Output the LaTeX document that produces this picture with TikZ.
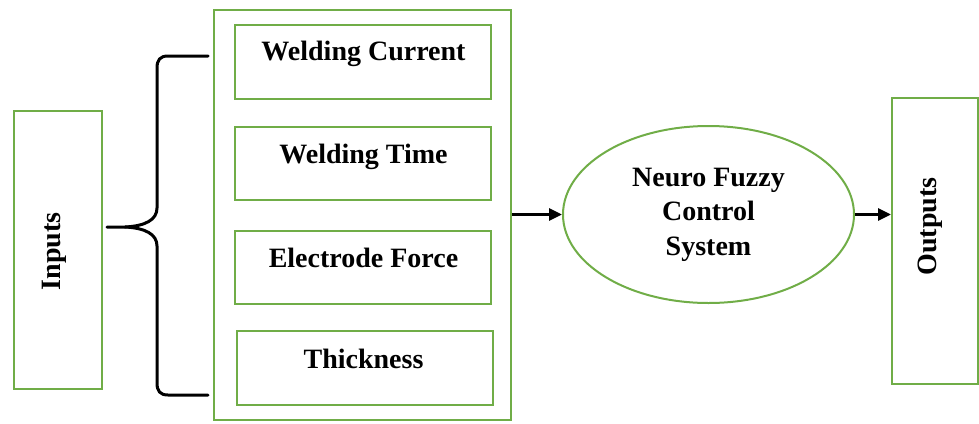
\documentclass[tikz,border=0pt]{standalone}
\usepackage{fontspec}
\setmainfont{Liberation Serif}
\usetikzlibrary{arrows.meta,shapes.geometric}
\definecolor{frgreen}{HTML}{70AD47}
\tikzset{
  gbox/.style={draw=frgreen, line width=2pt, rectangle, inner sep=0pt},
  gell/.style={draw=frgreen, line width=2pt, ellipse, inner sep=0pt, align=center,
     font=\bfseries\fontsize{28}{34.5}\selectfont},
  lbl/.style={font=\bfseries\fontsize{28}{32}\selectfont, inner sep=0pt},
  conn/.style={line width=3pt, -{Triangle[length=13pt,width=12pt]}},
  bracestyle/.style={line width=3pt, line cap=round, line join=round}
}
\begin{document}
\begin{tikzpicture}[x=1pt,y=-1pt]
\useasboundingbox (0,0) rectangle (979,423);
% left input box
\node[gbox, minimum width=88, minimum height=278] (inp) at (58,250) {};
\node[lbl, rotate=90, anchor=base] (inpt) at (60,251.5) {Inputs};
% container
\node[gbox, minimum width=297, minimum height=410] (cont) at (362.5,214.5) {};
% inner boxes
\node[gbox, minimum width=256, minimum height=74] (b1) at (363,62) {};
\node[lbl, anchor=base] (t1) at (363.5,60) {Welding Current};
\node[gbox, minimum width=256, minimum height=73] (b2) at (363,163.5) {};
\node[lbl, anchor=base] (t2) at (363.5,163) {Welding Time};
\node[gbox, minimum width=256, minimum height=73] (b3) at (363,267.5) {};
\node[lbl, anchor=base] (t3) at (363.5,267) {Electrode Force};
\node[gbox, minimum width=256, minimum height=74] (b4) at (365,368) {};
\node[lbl, anchor=base] (t4) at (363.5,368) {Thickness};
% ellipse
\node[gell, minimum width=291, minimum height=177] (nf) at (708.5,214.5) {Neuro Fuzzy\\Control\\System};
% outputs
\node[gbox, minimum width=86, minimum height=286] (out) at (935,241) {};
\node[lbl, rotate=90, anchor=base] (outt) at (936,226.5) {Outputs};
% brace
\coordinate (btop) at (208,56);
\coordinate (bbot) at (208,395);
\coordinate (btip) at (107,227);
\draw[bracestyle] (btop) -- (168,56) .. controls (160,56) and (157,60) .. (157,68)
   -- (157,208) .. controls (157,220) and (145,226) .. (125,227) -- (btip);
\draw[bracestyle] (125,227) .. controls (145,228) and (157,234) .. (157,246)
   -- (157,383) .. controls (157,391) and (160,395) .. (168,395) -- (bbot);
% arrows
\draw[conn] (cont.east) -- (nf.west);
\draw[conn] (nf.east) -- (nf.east -| out.west);
\end{tikzpicture}
\end{document}
